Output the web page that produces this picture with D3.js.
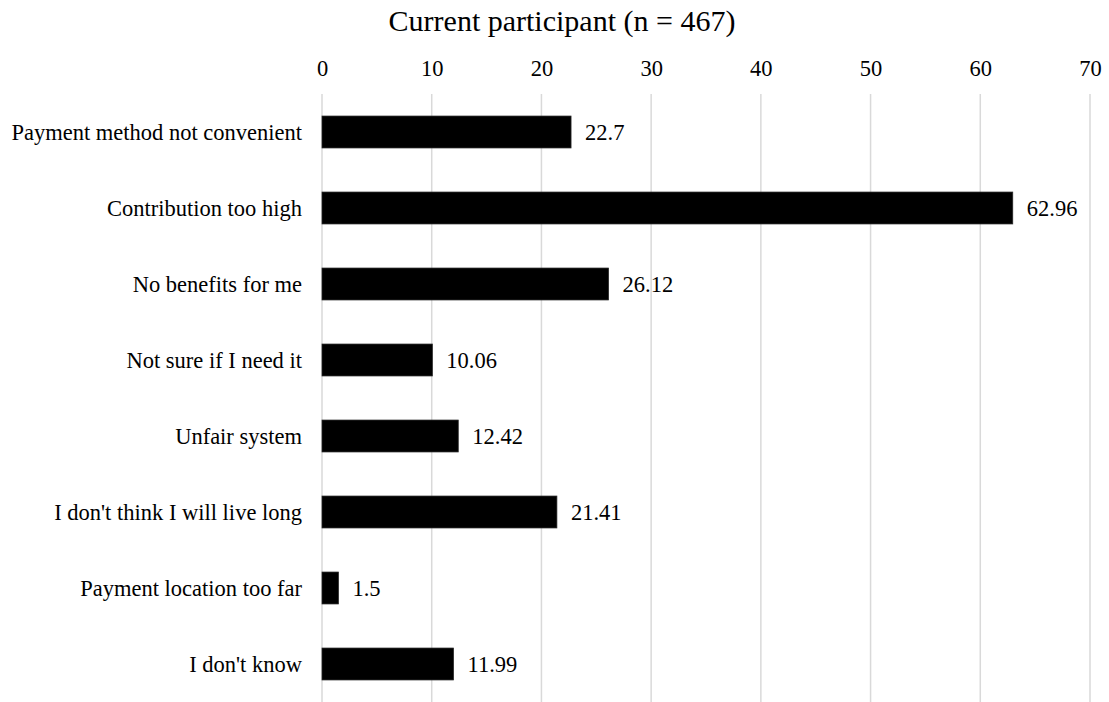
<!DOCTYPE html>
<html>
<head>
<meta charset="utf-8">
<script src="https://cdn.jsdelivr.net/npm/d3@7"></script>
<style>
  html, body { margin: 0; padding: 0; background: #fff; }
  svg { display: block; font-family: "Liberation Serif", "Times New Roman", serif; }
</style>
</head>
<body>
<svg id="chart" width="1109" height="702"></svg>
<script>
// Reasons given by current participants (percent)
const categories = [
  "Payment method not convenient",
  "Contribution too high",
  "No benefits for me",
  "Not sure if I need it",
  "Unfair system",
  "I don't think I will live long",
  "Payment location too far",
  "I don't know"
];
const values = [22.7, 62.96, 26.12, 10.06, 12.42, 21.41, 1.5, 11.99];
const valueLabels = ["22.7", "62.96", "26.12", "10.06", "12.42", "21.41", "1.5", "11.99"];
const tickValues = [0, 10, 20, 30, 40, 50, 60, 70];
const title = "Current participant (n = 467)";

const FONT = "Liberation Serif, Times New Roman, serif";
const svg = d3.select("#chart");
const margin = { top: 94, right: 19, bottom: 0, left: 322 };
const width = 1109, height = 702;

const x = d3.scaleLinear()
  .domain([0, 70])
  .range([margin.left, width - margin.right]);

const y = d3.scaleBand()
  .domain(categories)
  .range([margin.top, height - margin.bottom])
  .paddingInner(0.58)
  .paddingOuter(0.29);

// vertical gridlines
svg.append("g")
  .selectAll("line")
  .data(tickValues)
  .join("line")
  .attr("x1", d => x(d)).attr("x2", d => x(d))
  .attr("y1", margin.top).attr("y2", height + 2)
  .attr("stroke", "#d9d9d9")
  .attr("stroke-width", 1.5);

// top axis tick labels
const axisTop = d3.axisTop(x).tickValues(tickValues).tickSize(0).tickPadding(0);
const gAxis = svg.append("g")
  .attr("transform", `translate(0, 76)`)
  .call(axisTop)
  .attr("font-family", FONT)
  .attr("font-size", 22.5);
gAxis.select(".domain").remove();
gAxis.selectAll("text")
  .attr("fill", "#000")
  .attr("dy", 0);

// category labels
const axisLeft = d3.axisLeft(y).tickSize(0).tickPadding(20);
const gLeft = svg.append("g")
  .attr("transform", `translate(${margin.left}, 0)`)
  .call(axisLeft)
  .attr("font-family", FONT)
  .attr("font-size", 22.5);
gLeft.select(".domain").remove();
gLeft.selectAll("text")
  .attr("fill", "#000")
  .attr("dy", "0.35em");

// bars
svg.append("g")
  .selectAll("rect")
  .data(categories)
  .join("rect")
  .attr("x", x(0))
  .attr("y", d => y(d))
  .attr("width", (d, i) => x(values[i]) - x(0))
  .attr("height", y.bandwidth())
  .attr("fill", "#000")
  .attr("stroke", "#262626")
  .attr("stroke-width", 0.75);

// value labels
svg.append("g")
  .attr("font-family", FONT)
  .attr("font-size", 22.5)
  .selectAll("text")
  .data(categories)
  .join("text")
  .attr("x", (d, i) => x(values[i]) + 14)
  .attr("y", d => y(d) + y.bandwidth() / 2)
  .attr("dy", "0.35em")
  .attr("fill", "#000")
  .text((d, i) => valueLabels[i]);

// title
svg.append("text")
  .attr("x", 562)
  .attr("y", 31)
  .attr("text-anchor", "middle")
  .attr("font-family", FONT)
  .attr("font-size", 30)
  .attr("fill", "#000")
  .text(title);
</script>
</body>
</html>
